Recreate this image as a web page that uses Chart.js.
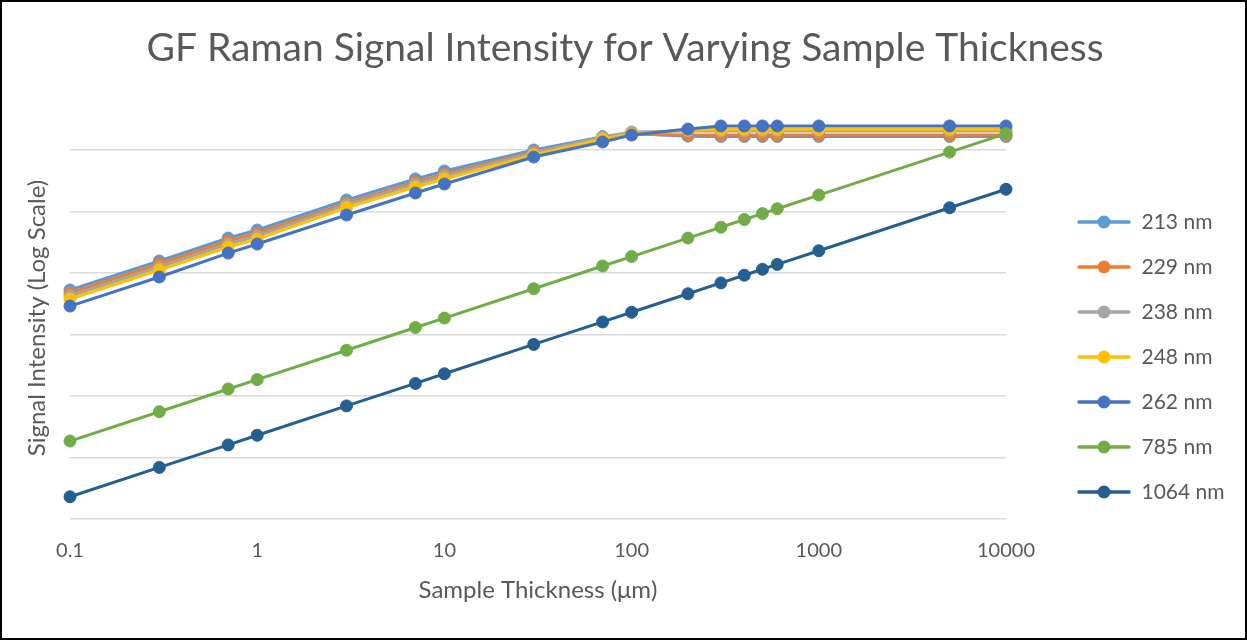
<!DOCTYPE html>
<html>
<head>
<meta charset="utf-8">
<script src="https://cdn.jsdelivr.net/npm/chart.js@4.4.1/dist/chart.umd.min.js"></script>
<style>
  html, body { margin: 0; padding: 0; background: #fff; }
  #wrap { position: relative; width: 1247px; height: 640px; }
</style>
</head>
<body>
<div id="wrap"><canvas id="ramanChart" width="1247" height="640"></canvas></div>
<script>
// sample thickness in µm (x values)
const thickness = [0.1, 0.3, 0.7, 1, 3, 7, 10, 30, 70, 100, 200, 300, 400, 500, 600, 1000, 5000, 10000];

// signal intensity per excitation wavelength (arbitrary units)
const nm213 = [5300, 15700, 37000, 50000, 154000, 338000, 456000, 1000000, 1650000, 1850000, 1680000, 1660000, 1660000, 1660000, 1660000, 1660000, 1660000, 1660000];
const nm229 = [4730, 14000, 33100, 44700, 137000, 302000, 407000, 927000, 1570000, 1800000, 1760000, 1760000, 1760000, 1760000, 1760000, 1760000, 1760000, 1760000];
const nm238 = [4230, 12500, 29600, 40000, 128000, 280000, 378000, 893000, 1630000, 1960000, 2040000, 2040000, 2040000, 2040000, 2040000, 2040000, 2040000, 2040000];
const nm248 = [3780, 11200, 26500, 35700, 116000, 250000, 338000, 830000, 1510000, 1820000, 2110000, 2170000, 2170000, 2170000, 2170000, 2170000, 2170000, 2170000];
const nm262 = [2900, 8610, 21100, 29600, 87700, 200000, 280000, 769000, 1350000, 1750000, 2190000, 2460000, 2460000, 2460000, 2460000, 2460000, 2460000, 2460000];
const nm785 = [18.5, 55.5, 130, 185, 555, 1300, 1850, 5550, 13000, 18500, 37000, 55500, 74000, 92500, 111000, 185000, 925000, 1850000];
const nm1064 = [2.3, 6.9, 16, 23, 69, 160, 230, 690, 1600, 2300, 4600, 6900, 9200, 11500, 13800, 23000, 115000, 230000];

const seriesNames = ['213 nm', '229 nm', '238 nm', '248 nm', '262 nm', '785 nm', '1064 nm'];
const seriesValues = [nm213, nm229, nm238, nm248, nm262, nm785, nm1064];
const seriesColors = ['#5B9BD5', '#ED7D31', '#A5A5A5', '#FFC000', '#4472C4', '#70AD47', '#255E91'];

const xTickValues = [0.1, 1, 10, 100, 1000, 10000];

const FONT = 'Lato, "Open Sans", sans-serif';
const TEXT = '#595959';

// legend icon: line with a marker in the middle (excel style)
function legendIcon(color) {
  const c = document.createElement('canvas');
  c.width = 101; c.height = 16;
  const g = c.getContext('2d');
  g.strokeStyle = color;
  g.lineWidth = 3.5;
  g.lineCap = 'round';
  g.beginPath(); g.moveTo(49, 8); g.lineTo(99, 8); g.stroke();
  g.fillStyle = color;
  g.beginPath(); g.arc(74, 8, 6.5, 0, Math.PI * 2); g.fill();
  return c;
}

const isPow10 = v => Math.abs(Math.log10(v) - Math.round(Math.log10(v))) < 1e-9;

const datasets = seriesNames.map((name, i) => ({
  label: name,
  data: thickness.map((t, j) => ({ x: t, y: seriesValues[i][j] })),
  borderColor: seriesColors[i],
  backgroundColor: seriesColors[i],
  borderWidth: 3,
  pointRadius: 6,
  pointHoverRadius: 6,
  pointBorderWidth: 1,
  pointBackgroundColor: seriesColors[i],
  pointBorderColor: seriesColors[i],
  tension: 0,
  clip: false,
  order: -i   // later series on top, like excel
}));

const framePlugin = {
  id: 'frame',
  afterLayout(chart) {
    // center the title on the whole picture, not on the space left of the padding
    if (chart.titleBlock) {
      chart.titleBlock.left = 3;
      chart.titleBlock.right = chart.width;
    }
  },
  afterDraw(chart) {
    const ctx = chart.ctx;
    ctx.save();
    ctx.strokeStyle = '#000';
    ctx.lineWidth = 2;
    ctx.strokeRect(1, 1, chart.width - 2, chart.height - 2);
    ctx.restore();
  }
};

new Chart(document.getElementById('ramanChart'), {
  type: 'line',
  data: { datasets: datasets },
  plugins: [framePlugin],
  options: {
    responsive: false,
    animation: false,
    events: [],
    layout: { padding: { left: 0, right: 21, top: 0, bottom: 0 } },
    plugins: {
      title: {
        display: true,
        text: 'GF Raman Signal Intensity for Varying Sample Thickness',
        color: TEXT,
        font: { family: FONT, size: 39, weight: 'normal' },
        padding: { top: 24.6, bottom: 45.6 }
      },
      legend: {
        position: 'right',
        maxWidth: 220,
        // empty title used only as a spacer so the items sit where excel put them
        title: { display: true, text: '', font: { size: 12 }, padding: { top: 59.6, bottom: 0 } },
        labels: {
          usePointStyle: true,
          pointStyleWidth: 101,
          padding: 24,
          color: TEXT,
          font: { family: FONT, size: 21 },
          sort: (a, b) => a.datasetIndex - b.datasetIndex,
          generateLabels: chart => chart.data.datasets.map((ds, i) => ({
            text: ds.label,
            datasetIndex: i,
            fillStyle: ds.borderColor,
            strokeStyle: ds.borderColor,
            fontColor: TEXT,
            lineWidth: 0,
            pointStyle: legendIcon(ds.borderColor),
            hidden: false
          }))
        }
      },
      tooltip: { enabled: false }
    },
    scales: {
      x: {
        type: 'logarithmic',
        min: 0.1,
        max: 10000,
        afterBuildTicks: scale => {
          scale.ticks = xTickValues.map(v => ({ value: v, major: true }));
        },
        afterFit: scale => { scale.height = 121; },
        ticks: {
          color: TEXT,
          padding: 20,
          font: { family: FONT, size: 20 },
          autoSkip: false,
          maxRotation: 0,
          callback: v => String(Number(v.toPrecision(6)))
        },
        grid: { display: false, drawTicks: false },
        border: { display: false },
        title: {
          display: true,
          text: 'Sample Thickness (μm)',
          color: TEXT,
          font: { family: FONT, size: 24 },
          padding: { top: 0, bottom: 35.6 }
        }
      },
      y: {
        type: 'logarithmic',
        min: 1,
        max: 3440000,
        afterBuildTicks: scale => {
          scale.ticks = scale.ticks.filter(t => isPow10(t.value));
        },
        afterFit: scale => { scale.width = 70; },
        ticks: { display: false },
        grid: { color: '#d9d9d9', lineWidth: 1.5, drawTicks: false },
        border: { display: false },
        title: {
          display: true,
          text: 'Signal Intensity (Log Scale)',
          color: TEXT,
          font: { family: FONT, size: 24 },
          padding: { top: 22.6, bottom: 0 }
        }
      }
    }
  }
});
</script>
</body>
</html>
